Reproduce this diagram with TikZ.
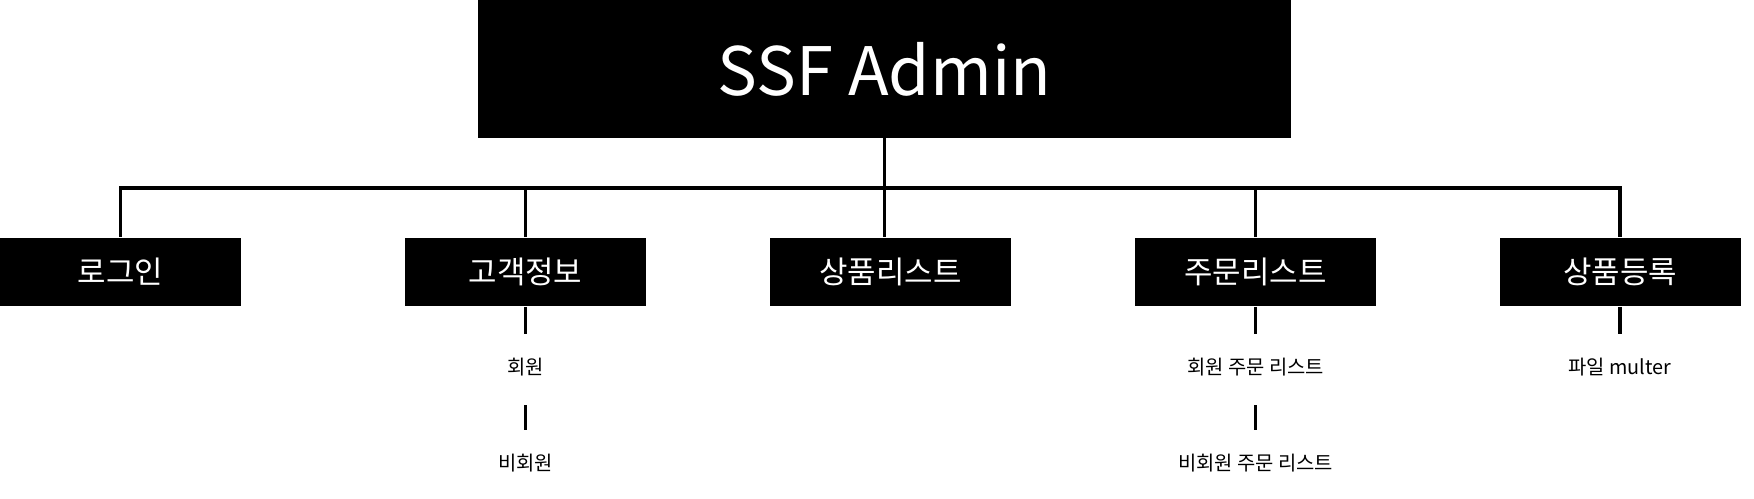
\documentclass[tikz,border=0pt]{standalone}
\usepackage{fontspec}
\setmainfont{Noto Sans CJK KR}
\usetikzlibrary{positioning}

\begin{document}
\begin{tikzpicture}[
		x=0.02cm, y=-0.02cm,
		root_box/.style={fill=black, text=white, inner sep=0pt, minimum width=16.26cm, minimum height=2.76cm, font=\fontsize{38}{46}\selectfont},
		menu_box/.style={fill=black, text=white, inner sep=0pt, minimum width=4.82cm, minimum height=1.38cm, font=\fontsize{17.6}{21}\selectfont},
		sub_item/.style={inner sep=0pt, minimum height=1.3cm, font=\fontsize{11.3}{13}\selectfont},
		link/.style={line width=2pt}
		]
		\useasboundingbox (0,0) rectangle (1754,499);
		
		% Root
		\node[root_box] (admin) at (884.5,69) {SSF Admin};
		
		% Menu row
		\node[menu_box] (login) at (120.5,272) {로그인};
		\node[menu_box] (customer) at (525.5,272) {고객정보};
		\node[menu_box] (product) at (890.5,272) {상품리스트};
		\node[menu_box] (order) at (1255.5,272) {주문리스트};
		\node[menu_box] (register) at (1620,272) {상품등록};
		
		\coordinate (bus) at (0,188);
		\draw[link] (login.north) -- (login.north |- bus) -- (register.north |- bus) -- (register.north);
		\draw[link] (admin.south) -- (admin.south |- product.north);
		\draw[link] (customer.north) -- (customer.north |- bus);
		\draw[link] (order.north) -- (order.north |- bus);
		
		% Sub items
		\node[sub_item, below=0.55cm of customer] (member) {회원};
		\node[sub_item, below=0.6cm of member] (guest) {비회원};
		\node[sub_item, below=0.55cm of order] (memberorder) {회원 주문 리스트};
		\node[sub_item, below=0.6cm of memberorder] (guestorder) {비회원 주문 리스트};
		\node[sub_item, below=0.55cm of register] (file) {파일 multer};
		
		\draw[link] (customer.south) -- (member.north);
		\draw[link, shorten <=0.1cm] (member.south) -- (guest.north);
		\draw[link] (order.south) -- (memberorder.north);
		\draw[link, shorten <=0.1cm] (memberorder.south) -- (guestorder.north);
		\draw[link] (register.south) -- (file.north);
		
	\end{tikzpicture}
\end{document}
